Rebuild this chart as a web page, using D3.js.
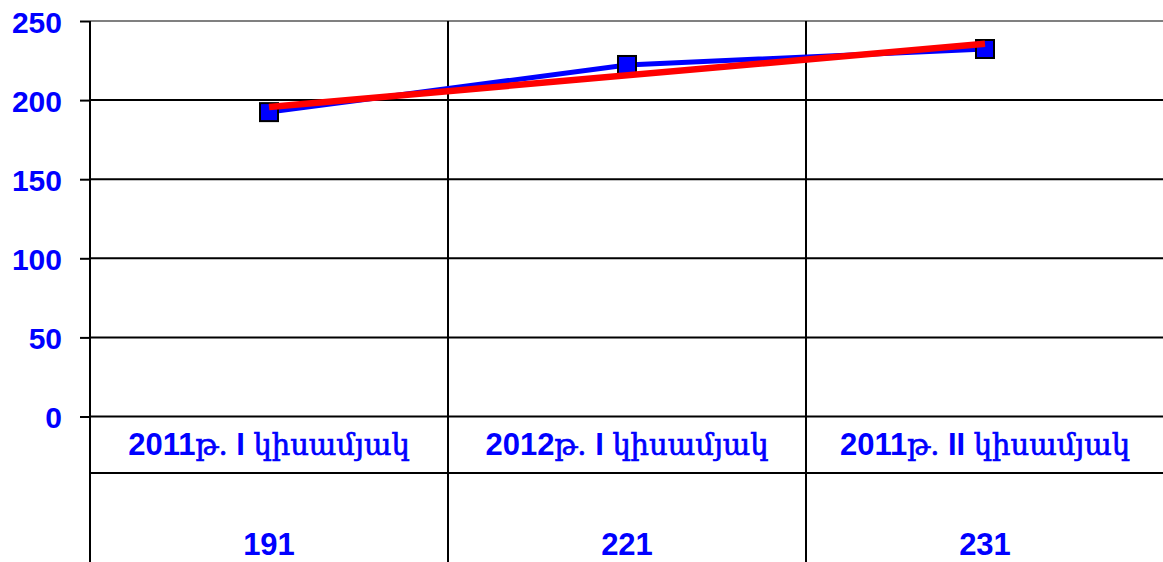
<!DOCTYPE html>
<html><head><meta charset="utf-8">
<script src="https://cdn.jsdelivr.net/npm/d3@7"></script>
<style>
html,body{margin:0;padding:0;background:#fff;}
svg{display:block;}
text{font-family:"Liberation Sans",Arial,"DejaVu Sans",sans-serif;}
</style>
</head><body>
<svg id="chart" width="1163" height="562"></svg>
<script>
const categories = ["2011թ. I կիսամյակ", "2012թ. I կիսամյակ", "2011թ. II կիսամյակ"];
const values = [192.4, 222.2, 232.3];
const tableLabels = ["191", "221", "231"];
const yTicks = [0, 50, 100, 150, 200, 250];

(function(){
const svg = d3.select("#chart");
const W = 1163, H = 562;
const plotLeft = 90, plotRight = 1164, plotTop = 21, zeroY = 416.5;
const tableRow1 = 473;
const armFont = "'DejaVu Serif', 'DejaVu Sans', serif";

const x = d3.scaleBand().domain(categories).range([plotLeft, plotRight]).padding(0);
const y = d3.scaleLinear().domain([0, 250]).range([zeroY, plotTop]);

// horizontal gridlines
svg.append("g").selectAll("line").data(yTicks).join("line")
  .attr("x1", plotLeft).attr("x2", W)
  .attr("y1", d => y(d)).attr("y2", d => y(d))
  .attr("stroke", d => d === 250 ? "#808080" : "#000")
  .attr("stroke-width", 2);

// y axis with ticks
const yAxis = d3.axisLeft(y).tickValues(yTicks).tickSize(10).tickPadding(18);
const gy = svg.append("g").attr("transform", `translate(${plotLeft},0)`).call(yAxis);
gy.select(".domain").remove();
gy.selectAll(".tick line").attr("stroke", "#000").attr("stroke-width", 2);
gy.selectAll(".tick text")
  .attr("fill", "#0000ff").attr("font-size", 30).attr("font-weight", "bold")
  .attr("font-family", "'Liberation Sans', Arial, sans-serif")
  .attr("dy", "0.38em");

// vertical lines: axis + category boundaries (extend through data table)
const bounds = categories.map(c => x(c)).concat([x(categories[categories.length-1]) + x.bandwidth()]);
svg.append("g").selectAll("line").data(bounds).join("line")
  .attr("x1", d => d).attr("x2", d => d)
  .attr("y1", plotTop).attr("y2", H)
  .attr("stroke", "#000").attr("stroke-width", 2);

// table row line
svg.append("line").attr("x1", plotLeft).attr("x2", W)
  .attr("y1", tableRow1).attr("y2", tableRow1)
  .attr("stroke", "#000").attr("stroke-width", 2);

// category labels with mixed fonts
const catG = svg.append("g");
categories.forEach(c => {
  const m = c.match(/^(\d+)(թ\.)( I+ )(.*)$/);
  const t = catG.append("text")
    .attr("x", x(c) + x.bandwidth()/2).attr("y", 455)
    .attr("text-anchor", "middle").attr("fill", "#0000ff").attr("font-size", 31)
    .style("white-space", "pre");
  t.append("tspan").attr("font-weight", "bold").text(m[1]);
  t.append("tspan").attr("font-family", armFont).attr("font-size", 29)
    .attr("stroke", "#0000ff").attr("stroke-width", 0.7).text(m[2]);
  t.append("tspan").attr("font-weight", "bold").text(m[3]);
  t.append("tspan").attr("font-family", armFont).attr("font-size", 29)
    .attr("stroke", "#0000ff").attr("stroke-width", 0.7).text(m[4]);
});

// table values
svg.append("g").selectAll("text").data(tableLabels).join("text")
  .attr("x", (d, i) => x(categories[i]) + x.bandwidth()/2)
  .attr("y", 555)
  .attr("text-anchor", "middle").attr("fill", "#0000ff")
  .attr("font-size", 31).attr("font-weight", "bold")
  .text(d => d);

// data line
const pts = values.map((v, i) => [x(categories[i]) + x.bandwidth()/2, y(v)]);
svg.append("path").attr("d", d3.line()(pts))
  .attr("fill", "none").attr("stroke", "#0000ff").attr("stroke-width", 5);

// markers
const ms = 18;
svg.append("g").selectAll("rect").data(pts).join("rect")
  .attr("x", d => d[0] - ms/2).attr("y", d => d[1] - ms/2)
  .attr("width", ms).attr("height", ms)
  .attr("fill", "#0000ff").attr("stroke", "#000").attr("stroke-width", 2);

// linear trend line
const n = values.length;
const xs = d3.range(n);
const mx = d3.mean(xs), my = d3.mean(values);
const slope = d3.sum(xs, (xi, i) => (xi - mx) * (values[i] - my)) / d3.sum(xs, xi => (xi - mx) ** 2);
const icpt = my - slope * mx;
const trend = xs.map(i => [x(categories[i]) + x.bandwidth()/2, y(icpt + slope * i)]);
svg.append("path").attr("d", d3.line()([trend[0], trend[n-1]]))
  .attr("fill", "none").attr("stroke", "#ff0000").attr("stroke-width", 6.5);
})();
</script>
</body></html>
